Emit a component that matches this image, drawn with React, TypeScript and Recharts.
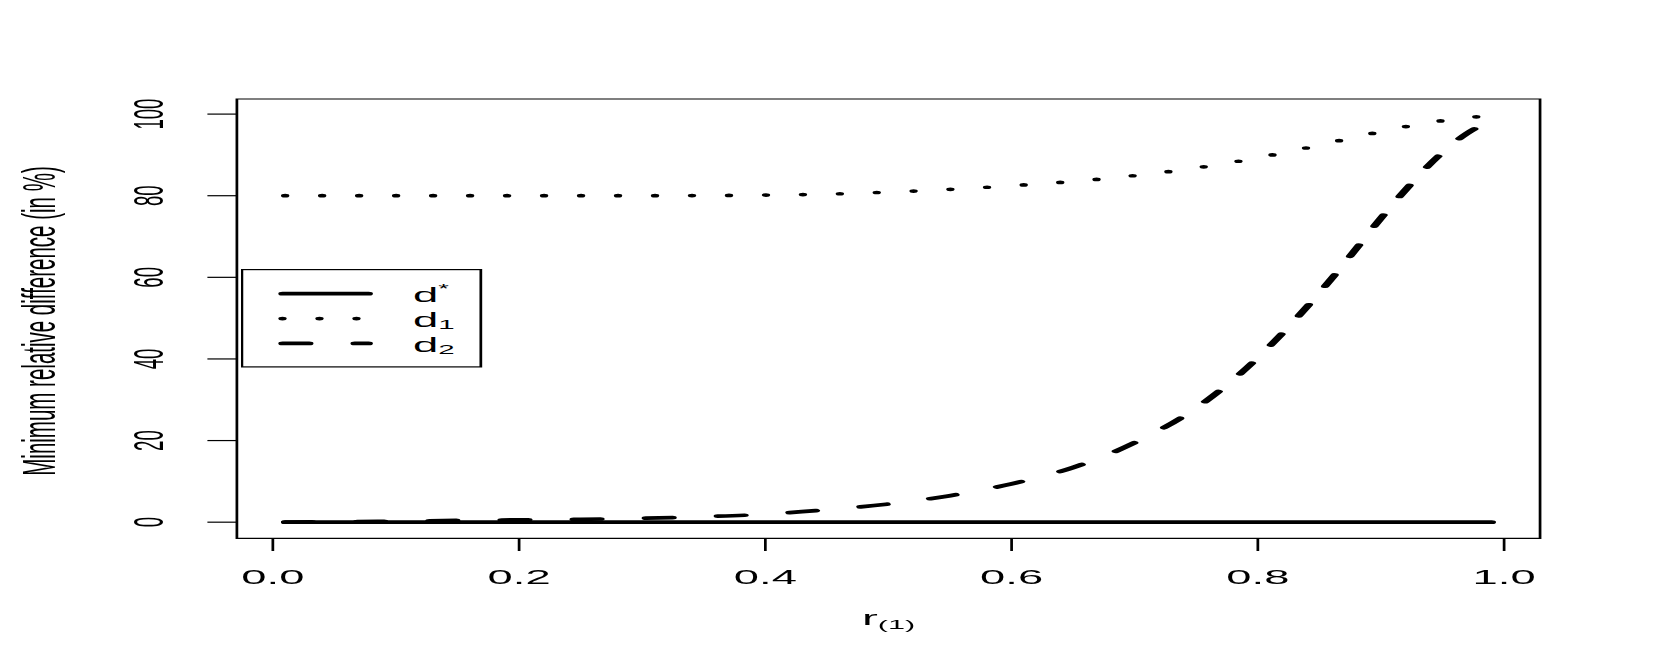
import React from 'react';
import { LineChart, Line, XAxis, YAxis, ReferenceArea, Legend, Label } from 'recharts';

// r(1) grid and the three curves
const r = [0.01, 0.05, 0.1, 0.15, 0.2, 0.25, 0.3, 0.35, 0.4, 0.45, 0.5, 0.55, 0.6, 0.65, 0.7, 0.75, 0.8, 0.825, 0.85, 0.875, 0.9, 0.925, 0.95, 0.97, 0.99];
const dStar = [0, 0, 0, 0, 0, 0, 0, 0, 0, 0, 0, 0, 0, 0, 0, 0, 0, 0, 0, 0, 0, 0, 0, 0, 0];
const d1 = [80.0, 80.0, 80.0, 80.0, 80.0, 80.0, 80.0, 80.05, 80.15, 80.4, 80.9, 81.55, 82.45, 83.5, 84.95, 86.8, 89.3, 90.8, 92.4, 94.1, 95.7, 97.2, 98.4, 99.1, 99.7];
const d2 = [0.0, 0.1, 0.25, 0.43, 0.57, 0.71, 0.96, 1.35, 1.95, 3.05, 4.45, 6.5, 9.4, 13.4, 19.5, 28.0, 40.3, 47.9, 56.2, 65.2, 74.5, 83.1, 90.6, 95.3, 98.5];

const xTicks = [0, 0.2, 0.4, 0.6, 0.8, 1.0];
const xTickLabels = ['0.0', '0.2', '0.4', '0.6', '0.8', '1.0'];
const yTicks = [0, 20, 40, 60, 80, 100];
const yTickLabels = ['0', '20', '40', '60', '80', '100'];

const X_DOMAIN: [number, number] = [-0.0292, 1.0292];
const Y_DOMAIN: [number, number] = [-3.95, 103.7];

const rows = r.map((x, i) => ({ r: x, dStar: dStar[i], d1: d1[i], d2: d2[i] }));

// the original R device was stretched horizontally, so draw narrow and scale
const W = 732;
const H = 664;
const SX = 1661 / W;
const FONT = '"Liberation Sans", Arial, Helvetica, sans-serif';

const DOTTED = '0 16.3';
const DASHED = '11.8 20';
const LW = 3.7;

const series = [
  { key: 'dStar', dash: undefined as string | undefined, base: 'd', sup: '*', sub: '' },
  { key: 'd1', dash: DOTTED, base: 'd', sup: '', sub: '1' },
  { key: 'd2', dash: DASHED, base: 'd', sup: '', sub: '2' },
];

const XTick = (props: any) => {
  const { x, y, index } = props;
  return (
    <text x={x} y={y} textAnchor="middle" fontSize={20} fontFamily={FONT} fill="#000">
      {xTickLabels[index]}
    </text>
  );
};

const YTick = (props: any) => {
  const { x, y, index } = props;
  return (
    <text x={x} y={y} transform={`rotate(-90, ${x}, ${y})`} textAnchor="middle" fontSize={18.6} fontFamily={FONT} fill="#000">
      {yTickLabels[index]}
    </text>
  );
};

const LegendBox = () => (
  <svg width={107} height={99} style={{ display: 'block', overflow: 'visible' }}>
    <rect x={0.6} y={0.6} width={105.3} height={97.3} fill="#fff" stroke="#000" strokeWidth={1.2} />
    {series.map((s, i) => {
      const yy = 24.7 + i * 24.85;
      return (
        <g key={s.key}>
          <line x1={18.5} x2={56.5} y1={yy} y2={yy} stroke="#000" strokeWidth={LW} strokeLinecap="round" strokeDasharray={s.dash} />
          <text x={76} y={yy + 8.7} fontSize={20} fontFamily={FONT} fill="#000">
            {s.base}
            {s.sup && <tspan fontSize={12} dy={-9.3}>{s.sup}</tspan>}
            {s.sub && <tspan fontSize={13} dy={2}>{s.sub}</tspan>}
          </text>
        </g>
      );
    })}
  </svg>
);

export default function App() {
  return (
    <div style={{ position: 'absolute', left: 0, top: 0, width: 1661, height: H, overflow: 'hidden', background: '#fff' }}>
      <div style={{ width: W, height: H, transform: `scaleX(${SX})`, transformOrigin: '0 0', fontFamily: FONT }}>
        <LineChart width={W} height={H} data={rows} margin={{ top: 99, right: 53.3, bottom: 85.7, left: 44.4 }}>
          <XAxis
            dataKey="r"
            type="number"
            domain={X_DOMAIN}
            ticks={xTicks}
            allowDataOverflow
            height={40}
            axisLine={false}
            tickLine={{ stroke: '#000', strokeWidth: 1.2 }}
            tickSize={12.7}
            tickMargin={33}
            tick={<XTick />}
            interval={0}
          >
            <Label
              content={() => (
                <text x={391.6} y={625} textAnchor="middle" fontSize={21} fontFamily={FONT} fill="#000">
                  r<tspan fontSize={13.5} dy={4}>(1)</tspan>
                </text>
              )}
            />
          </XAxis>
          <YAxis
            type="number"
            domain={Y_DOMAIN}
            ticks={yTicks}
            allowDataOverflow
            width={60}
            axisLine={false}
            tickLine={{ stroke: '#000', strokeWidth: 1.2 }}
            tickSize={13}
            tickMargin={19.4}
            tick={<YTick />}
            interval={0}
          >
            <Label
              content={() => (
                <text x={24.2} y={321} transform="rotate(-90, 24.2, 321)" textAnchor="middle" fontSize={20.5} fontFamily={FONT} fill="#000">
                  Minimum relative difference (in %)
                </text>
              )}
            />
          </YAxis>
          <ReferenceArea
            x1={X_DOMAIN[0]}
            x2={X_DOMAIN[1]}
            y1={Y_DOMAIN[0]}
            y2={Y_DOMAIN[1]}
            fill="none"
            fillOpacity={0}
            stroke="#000"
            strokeWidth={1.2}
            strokeOpacity={1}
            ifOverflow="visible"
          />
          {series.map((s) => (
            <Line
              key={s.key}
              dataKey={s.key}
              type="monotone"
              stroke="#000"
              strokeWidth={LW}
              strokeDasharray={s.dash}
              strokeLinecap="round"
              dot={false}
              activeDot={false}
              isAnimationActive={false}
            />
          ))}
          <Legend
            layout="vertical"
            align="center"
            verticalAlign="middle"
            wrapperStyle={{ left: 105.5, top: 269.3, width: 107, height: 99 }}
            content={() => <LegendBox />}
          />
        </LineChart>
      </div>
    </div>
  );
}
